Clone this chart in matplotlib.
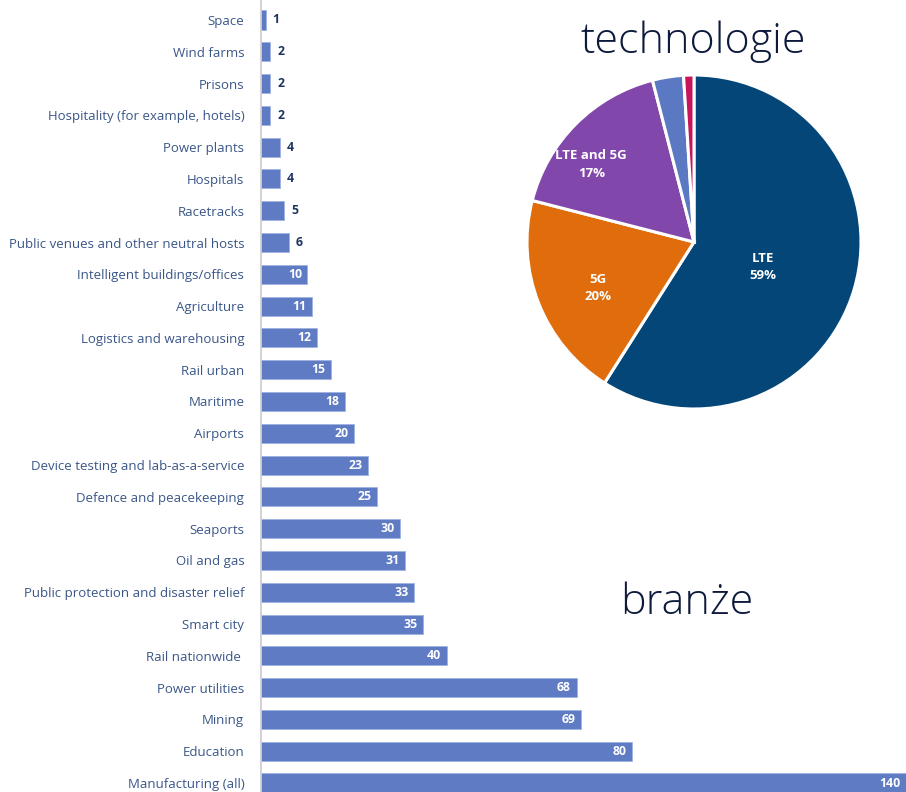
import matplotlib
matplotlib.use("Agg")
import matplotlib.pyplot as plt
import numpy as np

categories = ["Space", "Wind farms", "Prisons", "Hospitality (for example, hotels)",
              "Power plants", "Hospitals", "Racetracks",
              "Public venues and other neutral hosts", "Intelligent buildings/offices",
              "Agriculture", "Logistics and warehousing", "Rail urban", "Maritime",
              "Airports", "Device testing and lab-as-a-service",
              "Defence and peacekeeping", "Seaports", "Oil and gas",
              "Public protection and disaster relief", "Smart city",
              "Rail nationwide ", "Power utilities", "Mining", "Education",
              "Manufacturing (all)"]
counts = [1, 2, 2, 2, 4, 4, 5, 6, 10, 11, 12, 15, 18, 20, 23, 25, 30, 31, 33, 35,
          40, 68, 69, 80, 140]

tech_labels = ["LTE", "5G", "LTE and 5G", "", ""]
tech_share = [59, 20, 17, 3, 1]
tech_colors = ["#034677", "#e06c0c", "#8147ab", "#5b78c2", "#c8155a"]
tech_label_dist = [0.44, 0.64, 0.77, 0.7, 0.7]
tech_label_shift = [-3.7, 4.0, 8.0, 0.0, 0.0]

title_tech = "technologie"
title_branze = "branże"

plt.rcParams['font.family'] = ['Open Sans', 'DejaVu Sans']

W, H = 906, 792
fig = plt.figure(figsize=(W / 100, H / 100), dpi=100)

# ---- bar chart ----
ax = fig.add_axes([261 / W, 0, 1 - 261 / W, 1])
y = np.arange(len(categories))
bar_color = "#5f7bc4"
ax.barh(y, counts, height=0.6, color=bar_color, edgecolor="#9fb2e0", linewidth=0.6)
ax.set_ylim(24 + 9 / 31.8, -20 / 31.8)
ax.set_xlim(0, 139)
ax.set_yticks(y)
ax.set_yticklabels(categories, fontsize=9.5, color="#3a5688")
ax.tick_params(axis="y", length=0, pad=12)
ax.set_xticks([])
for s in ["top", "right", "bottom"]:
    ax.spines[s].set_visible(False)
ax.spines["left"].set_color("#cccccc")
ax.spines["left"].set_linewidth(1.2)

for yi, v in zip(y, counts):
    if v >= 10:
        ax.annotate(str(v), (min(v, 139), yi), xytext=(-4, 0), textcoords="offset points",
                    ha="right", va="center", color="white", fontsize=8.8,
                    fontweight="bold")
    else:
        ax.annotate(str(v), (v, yi), xytext=(5, 0), textcoords="offset points",
                    ha="left", va="center", color="#1d3461", fontsize=8.8,
                    fontweight="bold")

# ---- pie ----
cx, cy, r = 694, 242, 167
m = 1.03
pax = fig.add_axes([(cx - r * m) / W, (H - cy - r * m) / H, 2 * r * m / W, 2 * r * m / H])
wedges, _ = pax.pie(tech_share, colors=tech_colors, startangle=90, counterclock=False,
                    wedgeprops=dict(edgecolor="white", linewidth=2.2))
pax.set_xlim(-m, m)
pax.set_ylim(-m, m)
pax.set_aspect("equal")
for w, lab, share, d, sh in zip(wedges, tech_labels, tech_share, tech_label_dist,
                                tech_label_shift):
    if not lab:
        continue
    ang = np.deg2rad((w.theta1 + w.theta2) / 2 + sh)
    pax.text(d * np.cos(ang), d * np.sin(ang), f"{lab}\n{share}%", ha="center",
             va="center", color="white", fontsize=9.5, fontweight="bold",
             linespacing=1.45)

fig.text(693 / W, 1 - 37 / H, title_tech, ha="center", va="center_baseline",
         fontsize=31, color="#0d1a3c", fontweight="light")
fig.text(687 / W, 1 - 598 / H, title_branze, ha="center", va="center_baseline",
         fontsize=31, color="#0d1a3c", fontweight="light")

fig.savefig("out.png", dpi=100)
